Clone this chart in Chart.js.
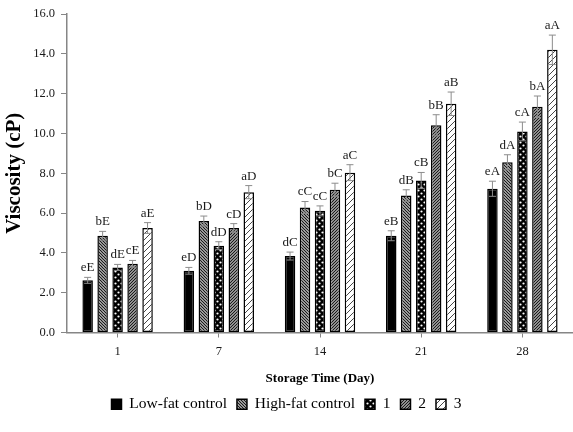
<!DOCTYPE html>
<html>
<head>
<meta charset="utf-8">
<script src="https://cdn.jsdelivr.net/npm/chart.js@4.4.0/dist/chart.umd.min.js"></script>
<style>
  html, body { margin: 0; padding: 0; background: #fff; }
  #wrap { width: 573px; height: 432px; }
</style>
</head>
<body>
<div id="wrap"><canvas id="chart" width="573" height="432"></canvas></div>
<script>
const days = ['1', '7', '14', '21', '28'];
const seriesNames = ['Low-fat control', 'High-fat control', '1', '2', '3'];

const lowFat   = [2.62, 3.10, 3.84, 4.86, 7.22];
const highFat  = [4.86, 5.60, 6.28, 6.88, 8.55];
const treat1   = [3.27, 4.36, 6.11, 7.64, 10.10];
const treat2   = [3.45, 5.25, 7.17, 10.41, 11.34];
const treat3   = [5.25, 7.05, 8.03, 11.49, 14.20];

const lowFatErr  = [0.15, 0.17, 0.20, 0.25, 0.38];
const highFatErr = [0.22, 0.25, 0.30, 0.29, 0.38];
const treat1Err  = [0.15, 0.20, 0.25, 0.40, 0.47];
const treat2Err  = [0.17, 0.22, 0.33, 0.53, 0.54];
const treat3Err  = [0.27, 0.33, 0.40, 0.59, 0.74];

const lowFatTag  = ['eE', 'eD', 'dC', 'eB', 'eA'];
const highFatTag = ['bE', 'bD', 'cC', 'dB', 'dA'];
const treat1Tag  = ['dE', 'dD', 'cC', 'cB', 'cA'];
const treat2Tag  = ['cE', 'cD', 'bC', 'bB', 'bA'];
const treat3Tag  = ['aE', 'aD', 'aC', 'aB', 'aA'];

const serif = "'Liberation Serif', 'Times New Roman', serif";

function makePattern(draw, size) {
    const c = document.createElement('canvas');
    c.width = size; c.height = size;
    const g = c.getContext('2d');
    draw(g, size);
    return g.createPattern(c, 'repeat');
}

function lines(dir, bg, fg, lw) {
    return function (g, s) {
        g.fillStyle = bg; g.fillRect(0, 0, s, s);
        g.strokeStyle = fg; g.lineWidth = lw;
        g.beginPath();
        if (dir === '/') {
            g.moveTo(-1, s + 1); g.lineTo(s + 1, -1);
            g.moveTo(-1, 1); g.lineTo(1, -1);
            g.moveTo(s - 1, s + 1); g.lineTo(s + 1, s - 1);
        } else {
            g.moveTo(-1, -1); g.lineTo(s + 1, s + 1);
            g.moveTo(s - 1, -1); g.lineTo(s + 1, 1);
            g.moveTo(-1, s - 1); g.lineTo(1, s + 1);
        }
        g.stroke();
    };
}

const ctx = document.getElementById('chart').getContext('2d');

const fills = [
    '#000000',
    makePattern(lines('\\', '#ffffff', '#1a1a1a', 1.3), 3),
    makePattern(function (g, s) {
        g.fillStyle = '#000'; g.fillRect(0, 0, s, s);
        g.fillStyle = '#fff';
        g.beginPath(); g.arc(1.5, 1.5, 1.1, 0, Math.PI * 2); g.fill();
        g.beginPath(); g.arc(4.5, 4.5, 1.1, 0, Math.PI * 2); g.fill();
    }, 6),
    makePattern(lines('/', '#ffffff', '#1a1a1a', 1.4), 3),
    makePattern(lines('/', '#ffffff', '#333333', 0.9), 6)
];

const values = [lowFat, highFat, treat1, treat2, treat3];
const errs = [lowFatErr, highFatErr, treat1Err, treat2Err, treat3Err];
const tags = [lowFatTag, highFatTag, treat1Tag, treat2Tag, treat3Tag];

const errorBars = {
    id: 'errorBars',
    afterDatasetsDraw(chart) {
        const g = chart.ctx;
        const ys = chart.scales.y;
        g.save();
        chart.data.datasets.forEach((ds, i) => {
            const meta = chart.getDatasetMeta(i);
            meta.data.forEach((bar, j) => {
                const v = ds.data[j];
                const e = errs[i][j];
                const top = ys.getPixelForValue(v + e);
                const bot = ys.getPixelForValue(v - e);
                g.strokeStyle = '#8c8c8c';
                g.lineWidth = 1;
                g.beginPath();
                g.moveTo(bar.x, top); g.lineTo(bar.x, bot);
                g.moveTo(bar.x - 3.5, top); g.lineTo(bar.x + 3.5, top);
                g.moveTo(bar.x - 3.5, bot); g.lineTo(bar.x + 3.5, bot);
                g.stroke();
                g.fillStyle = '#1a1a1a';
                g.font = '13px ' + serif;
                g.textAlign = 'center';
                g.textBaseline = 'bottom';
                g.fillText(tags[i][j], bar.x, top - 3);
            });
        });
        g.restore();
    }
};

new Chart(ctx, {
    type: 'bar',
    data: {
        labels: days,
        datasets: values.map((d, i) => ({
            label: seriesNames[i],
            data: d,
            backgroundColor: fills[i],
            borderColor: '#000',
            borderWidth: 1.5,
            borderSkipped: false,
            categoryPercentage: 0.74,
            barPercentage: 0.7
        }))
    },
    options: {
        responsive: false,
        animation: false,
        layout: { padding: { top: 14, right: 0, left: 0, bottom: 10 } },
        plugins: {
            tooltip: { enabled: false },
            legend: {
                position: 'bottom',
                labels: {
                    font: { family: serif, size: 15.5 },
                    color: '#000',
                    boxWidth: 10,
                    boxHeight: 10,
                    padding: 10
                }
            }
        },
        scales: {
            x: {
                grid: { drawOnChartArea: false, offset: false, tickLength: 5, color: '#868686' },
                border: { color: '#868686', width: 1.5 },
                ticks: { font: { family: serif, size: 12.5 }, color: '#1a1a1a', padding: 7 },
                title: {
                    display: true, text: 'Storage Time (Day)',
                    font: { family: serif, size: 13, weight: 'bold' }, color: '#000',
                    padding: { top: 6, bottom: 0 }
                },
                afterFit(s) { s.height = 54; }
            },
            y: {
                min: 0, max: 16,
                grid: { drawOnChartArea: false, tickLength: 6, color: '#868686' },
                border: { color: '#868686', width: 1.5 },
                ticks: {
                    stepSize: 2,
                    font: { family: serif, size: 12.5 }, color: '#1a1a1a', padding: 6,
                    callback: v => v.toFixed(1)
                },
                title: {
                    display: true, text: 'Viscosity (cP)',
                    font: { family: serif, size: 21, weight: 'bold' }, color: '#000',
                    padding: { top: 2, bottom: 0 }
                },
                afterFit(s) { s.width = 67; }
            }
        }
    },
    plugins: [errorBars]
});
</script>
</body>
</html>
